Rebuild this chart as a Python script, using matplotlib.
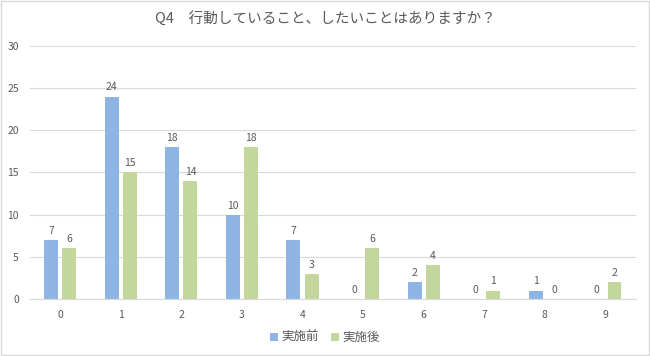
import numpy as np
import matplotlib.pyplot as plt
from matplotlib.patches import Rectangle

plt.rcParams['font.family'] = ['Noto Sans CJK JP', 'DejaVu Sans']

# データ
categories = ['0', '1', '2', '3', '4', '5', '6', '7', '8', '9']
before = [7, 24, 18, 10, 7, 0, 2, 0, 1, 0]
after = [6, 15, 14, 18, 3, 6, 4, 1, 0, 2]
title = 'Q4\u3000行動していること、したいことはありますか？'

text_color = '#595959'
blue = '#8DB4E2'
green = '#C3D69B'

fig = plt.figure(figsize=(6.5, 3.56), dpi=100)
ax = fig.add_axes([0.046, 0.160, 0.932, 0.711])

x = np.arange(len(categories))
w = 0.23
off = 0.15
b1 = ax.bar(x - off, before, w, color=blue, label='実施前')
b2 = ax.bar(x + off, after, w, color=green, label='実施後')
ax.bar_label(b1, padding=3, fontsize=7.5, color=text_color)
ax.bar_label(b2, padding=3, fontsize=7.5, color=text_color)

ax.set_xlim(-0.5, len(categories) - 0.5)
ax.set_ylim(0, 30)
ax.set_yticks(range(0, 31, 5))
ax.set_xticks(x)
ax.set_xticklabels(categories)
ax.tick_params(axis='both', length=0, labelsize=7.5, colors=text_color)
ax.tick_params(axis='x', pad=8)
ax.tick_params(axis='y', pad=8)
ax.grid(axis='y', color='#D9D9D9', linewidth=0.8)
ax.set_axisbelow(True)
for s in ['top', 'right', 'left']:
    ax.spines[s].set_visible(False)
ax.spines['bottom'].set_color('#D9D9D9')

fig.text(0.5, 0.947, title, ha='center', va='center', fontsize=10.5, color=text_color)
fig.legend(handles=[b1, b2], loc='center', bbox_to_anchor=(0.5, 0.052), ncol=2,
           frameon=False, fontsize=9, handlelength=0.6, handleheight=0.6,
           handletextpad=0.3, columnspacing=1.0, labelcolor=text_color)

fig.patches.append(Rectangle((0.002, 0.003), 0.996, 0.994, transform=fig.transFigure,
                             fill=False, edgecolor='#D9D9D9', linewidth=1))

fig.savefig('out.png', dpi=100)
